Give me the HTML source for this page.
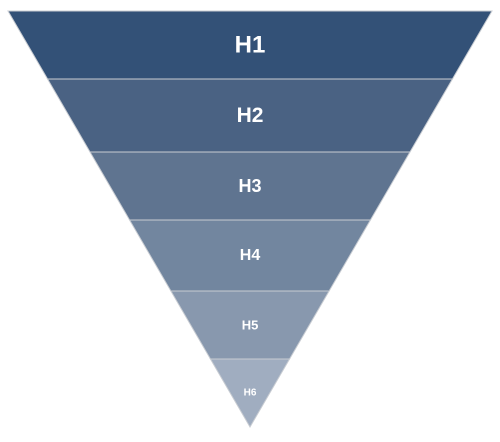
<!DOCTYPE html>
<html><head><meta charset="utf-8"><style>
html,body{margin:0;padding:0;background:#fff;}
svg{display:block;}
text{font-family:"Liberation Sans",sans-serif;font-weight:bold;fill:#fff;text-anchor:middle;dominant-baseline:central;}
</style></head><body>
<svg id="chart" width="500" height="442"></svg>
<script>
const labels=["H1","H2","H3","H4","H5","H6"];
const values=[68,73,68,71,68,68];
const colors=["#335177","#4a6283","#5f7490","#72869f","#8898ae","#a0adc0"];
const fontSizes=[24,21,18,16,13,10];
const svg=document.getElementById('chart');
const NS="http://www.w3.org/2000/svg";
const top0=11,left0=8,right0=492,cx=250;
const total=values.reduce((a,b)=>a+b,0);
const H=427-top0;
const yScale=v=>v/total*H;
const halfW=y=>((right0-left0)/2)*(1-(y-top0)/H);
let y=top0;
values.forEach((v,i)=>{
  const y1=y+yScale(v);
  const p=document.createElementNS(NS,'polygon');
  p.setAttribute('points',`${cx-halfW(y)},${y} ${cx+halfW(y)},${y} ${cx+halfW(y1)},${y1} ${cx-halfW(y1)},${y1}`);
  p.setAttribute('fill',colors[i]);
  p.setAttribute('stroke','#c8ccd2');
  p.setAttribute('stroke-width','1');
  
  
  svg.appendChild(p);
  const t=document.createElementNS(NS,'text');
  t.setAttribute('x',cx);
  t.setAttribute('y',(y+y1)/2);
  t.setAttribute('font-size',fontSizes[i]);
  t.textContent=labels[i];
  
  
  svg.appendChild(t);
  y=y1;
});
</script>
</body></html>
